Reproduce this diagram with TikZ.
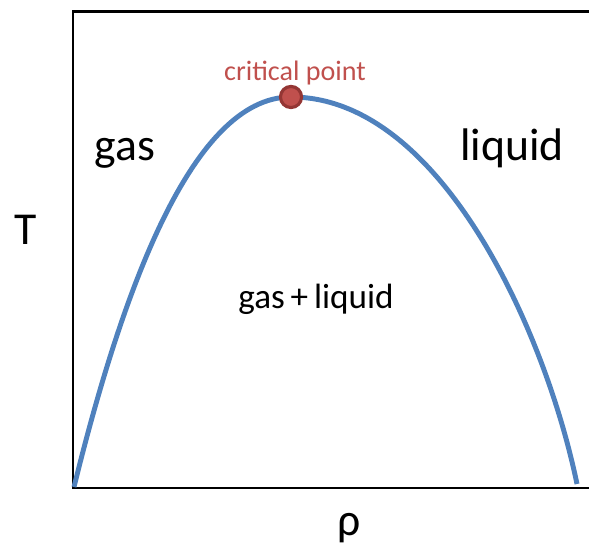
\documentclass[tikz,border=0pt]{standalone}
\usepackage{fontspec}
\setmainfont{Carlito}
\usepackage{tikz}
\usetikzlibrary{positioning}

\definecolor{curveblue}{HTML}{4F81BD}
\definecolor{critred}{HTML}{C0504D}
\definecolor{critdark}{HTML}{943634}

\begin{document}
\begin{tikzpicture}[
  x=0.02cm, y=-0.02cm,
  axis/.style={line width=1.7pt, line cap=rect},
  region/.style={font=\fontsize{26}{30}\selectfont, anchor=base, inner sep=0pt},
  mixlabel/.style={font=\fontsize{20}{24}\selectfont, anchor=base, inner sep=0pt},
  critlabel/.style={font=\fontsize{16}{19}\selectfont, text=critred, anchor=base, inner sep=0pt},
  critdot/.style={circle, fill=critred, draw=critdark, line width=1.8pt, minimum size=12pt, inner sep=0pt}
]
\useasboundingbox (0,0) rectangle (589,546);
% axes
\draw[axis] (589,12) -- (73,12) -- (73,488) -- (589,488);
% coexistence curve
\coordinate (lo) at (74,487);
\coordinate (top) at (291,97);
\coordinate (hi) at (577,484);
\draw[curveblue, line width=2.8pt]
  (lo) .. controls (120,300) and (190,97) .. (top)
       .. controls (440,97) and (545,330) .. (hi);
\node[critdot] (cp) at (top) {};
\node[critlabel] (cplabel) at (295,81) {critical point};
% labels
\node[region] (gas) at (125,161) {gas};
\node[region] (liq) at (512,161) {liquid};
\node[mixlabel] (mix) at (316,309) {gas\,+\,liquid};
\node[region] (temp) at (26,245) {T};
\node[region] (rho) at (349,536) {ρ};
\end{tikzpicture}
\end{document}
